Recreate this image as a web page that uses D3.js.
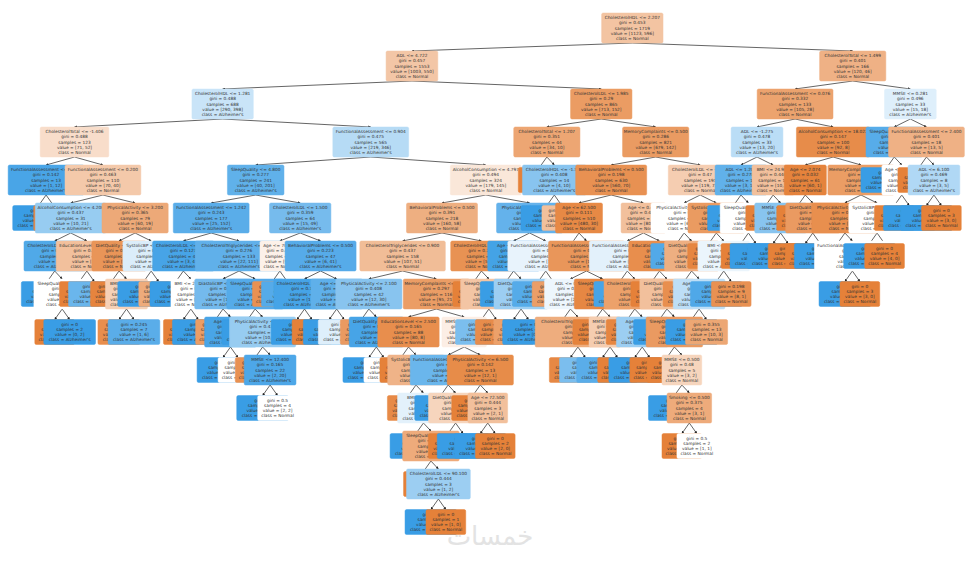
<!DOCTYPE html>
<html><head><meta charset="utf-8">
<script src="https://cdn.jsdelivr.net/npm/d3@7"></script>
<style>body{margin:0;background:#fff}svg{display:block}</style>
</head><body>
<svg id="c" width="980" height="561"></svg>
<script>
// Decision tree nodes in pre-order: [parent, feature, threshold, normalCount, alzheimersCount]; feature null = leaf
const classNames = ["Normal", "Alzheimer's"];
const treeNodes = [
[-1,"CholesterolHDL",2.207,1123,596],
[0,"ADL",4.722,1003,550],
[1,"CholesterolHDL",1.281,290,398],
[2,"CholesterolTotal",-1.406,71,52],
[3,"FunctionalAssessment",1.08,1,12],
[4,null,0,0,12],[4,null,0,1,0],
[3,"FunctionalAssessment",0.2,70,40],
[7,"AlcoholConsumption",4.2,10,21],
[8,"CholesterolLDL",1.1,2,17],
[9,null,0,0,15],
[9,"SleepQuality",6.2,2,2],[11,null,0,2,0],[11,null,0,0,2],
[8,"EducationLevel",1.5,8,4],[14,null,0,7,0],[14,null,0,1,4],
[7,"PhysicalActivity",3.2,60,19],
[17,"DietQuality",5.1,51,8],[18,null,0,40,1],
[18,"BMI",27.3,11,7],[20,null,0,10,1],[20,null,0,1,6],
[17,"SystolicBP",120.5,9,11],[23,null,0,0,8],[23,null,0,9,3],
[2,"FunctionalAssessment",0.904,219,346],
[26,"SleepQuality",4.8,40,201],
[27,"FunctionalAssessment",1.242,25,152],
[28,"CholesterolLDL",1.12,3,41],[29,null,0,0,38],
[29,"BMI",22.1,3,3],[31,null,0,3,0],[31,null,0,0,3],
[28,"CholesterolTriglycerides",-0.868,22,111],
[34,"DiastolicBP",72.5,12,40],[35,null,0,9,2],
[35,"Age",78.5,3,38],[37,null,0,0,35],[37,null,0,3,3],
[34,"SleepQuality",7.1,10,71],[40,null,0,0,50],
[40,"PhysicalActivity",2.3,10,21],[42,null,0,8,1],
[42,"MMSE",12.4,2,20],[44,null,0,0,18],[44,null,0,2,2],
[27,"CholesterolLDL",1.5,15,49],
[47,"Age",70.5,9,8],[48,null,0,8,1],[48,null,0,1,7],
[47,"BehavioralProblems",0.5,6,41],
[51,"CholesterolHDL",0.97,1,15],[52,null,0,0,15],[52,null,0,1,0],
[51,"Age",80.5,5,26],[55,null,0,0,20],[55,null,0,5,6],
[26,"AlcoholConsumption",4.797,179,145],
[58,"BehavioralProblems",0.5,160,58],
[59,"CholesterolTriglycerides",0.9,107,51],
[60,"PhysicalActivity",2.1,12,30],[61,null,0,10,2],
[61,"DietQuality",8.1,2,28],[63,null,0,0,26],[63,null,0,2,2],
[60,"MemoryComplaints",0.5,95,21],
[66,"EducationLevel",2.5,80,8],[67,null,0,60,0],
[67,"SystolicBP",150.5,20,8],[69,null,0,14,1],
[69,"BMI",30.2,6,7],[71,null,0,0,5],
[71,"SleepQuality",5.5,6,2],[73,null,0,5,0],
[73,"CholesterolLDL",90.1,1,2],[75,null,0,0,2],[75,null,0,1,0],
[66,"MMSE",15.2,15,13],
[78,"FunctionalAssessment",3.1,3,12],[79,null,0,0,10],
[79,"DietQuality",3.2,3,2],[81,null,0,3,0],[81,null,0,0,2],
[78,"PhysicalActivity",6.5,12,1],[84,null,0,10,0],
[84,"Age",72.5,2,1],[86,null,0,0,1],[86,null,0,2,0],
[59,"CholesterolHDL",1.9,53,7],[89,null,0,40,0],
[89,"SleepQuality",4.1,13,7],[91,null,0,2,6],[91,null,0,11,1],
[58,"PhysicalActivity",5.6,19,87],
[94,"Age",65.5,4,70],[95,null,0,0,62],
[95,"DietQuality",4.4,4,8],[97,null,0,4,1],[97,null,0,0,7],
[94,"FunctionalAssessment",2.3,15,17],[100,null,0,2,14],[100,null,0,13,3],
[1,"CholesterolLDL",1.985,713,152],
[103,"CholesterolTotal",1.207,34,10],[104,null,0,30,0],
[104,"CholesterolHDL",-1.518,4,10],[106,null,0,0,8],[106,null,0,4,2],
[103,"MemoryComplaints",0.5,679,142],
[109,"BehavioralProblems",0.5,560,70],
[110,"Age",62.5,480,30],[111,null,0,300,0],
[111,"FunctionalAssessment",1.4,180,30],
[113,"ADL",0.8,20,22],[114,null,0,0,15],
[114,"CholesterolTriglycerides",1.2,20,7],[116,null,0,18,1],[116,null,0,2,6],
[113,"SleepQuality",9.1,160,8],[119,null,0,150,2],
[119,"MMSE",3.9,10,6],[121,null,0,1,6],[121,null,0,9,0],
[110,"Age",0.412,80,40],
[124,"FunctionalAssessment",2.1,30,35],[125,null,0,2,28],
[125,"CholesterolHDL",0.8,28,7],[127,null,0,25,1],
[127,"Age",80.5,3,6],[129,null,0,0,6],[129,null,0,3,0],
[124,"EducationLevel",1.5,50,5],[132,null,0,40,0],
[132,"DietQuality",3.6,10,5],[134,null,0,0,3],
[134,"SleepQuality",0.5,10,2],[136,null,0,7,0],
[136,"MMSE",0.5,3,2],[138,null,0,0,1],
[138,"Smoking",0.5,3,1],[140,null,0,2,0],[140,null,0,1,1],
[109,"CholesterolLDL",-2.528,119,72],
[143,"PhysicalActivity",1.6,60,60],[144,null,0,5,40],
[144,"DietQuality",6.2,55,20],[146,null,0,45,5],
[146,"Age",74.5,10,15],[148,null,0,0,12],[148,null,0,10,3],
[143,"SystolicBP",130.5,59,12],[151,null,0,50,2],
[151,"BMI",25.2,9,10],[153,null,0,1,9],[153,null,0,8,1],
[0,"CholesterolTotal",1.499,120,46],
[156,"FunctionalAssessment",0.076,105,28],
[157,"ADL",-1.275,13,20],
[158,"ADL",1.2,3,15],[159,null,0,0,12],
[159,"SleepQuality",6.1,3,3],[161,null,0,3,0],[161,null,0,0,3],
[158,"BMI",24.9,10,5],[164,null,0,8,0],
[164,"MMSE",20.1,2,5],[166,null,0,0,5],[166,null,0,2,0],
[157,"AlcoholConsumption",18.022,92,8],
[169,"Age",2.074,60,1],[170,null,0,55,0],
[170,"DietQuality",7.5,5,1],[172,null,0,5,0],[172,null,0,0,1],
[169,"MemoryComplaints",0.5,32,7],
[175,"PhysicalActivity",4.4,28,3],[176,null,0,25,0],
[176,"FunctionalAssessment",5.3,3,3],[178,null,0,0,3],[178,null,0,3,0],
[175,"SystolicBP",140.5,4,4],[181,null,0,0,4],[181,null,0,4,0],
[156,"MMSE",0.281,15,18],
[184,"SleepQuality",7.02,2,13],[185,null,0,0,11],
[185,"Age",71.5,2,2],[187,null,0,2,0],[187,null,0,0,2],
[184,"FunctionalAssessment",2.4,13,5],[190,null,0,10,0],
[190,"ADL",6.1,3,5],[192,null,0,0,5],[192,null,0,3,0]
];

const svg = d3.select("#c");
const rows = treeNodes.map((r,i)=>({id:String(i), parentId: r[0]<0?null:String(r[0]), f:r[1], t:r[2], n:r[3], a:r[4]}));
const root = d3.stratify().id(d=>d.id).parentId(d=>d.parentId)(rows);
const maxDepth = root.height;
d3.tree().size([920, 1]).separation((a,b)=>a.parent===b.parent?1:1.15)(root);
const x = d3.scaleLinear().domain([0,920]).range([30,950]);
const y = d3.scaleLinear().domain([0,maxDepth]).range([28,522]);

const base = [[229,129,57],[57,157,229]];
function fill(d){
  const tot=d.n+d.a, p=[d.n/tot,d.a/tot];
  const k = p[0]>=p[1]?0:1, pm=p[k], p2=p[1-k];
  const alpha = p2>=1?0:(pm-p2)/(1-p2);
  const c = base[k].map(v=>Math.round(alpha*v+(1-alpha)*255));
  return `rgb(${c[0]},${c[1]},${c[2]})`;
}
function lines(d){
  const tot=d.n+d.a, g=1-(d.n/tot)**2-(d.a/tot)**2;
  const cls = d.n>=d.a?classNames[0]:classNames[1];
  const L=[];
  if(d.f) L.push(`${d.f} <= ${d.t.toFixed(3)}`);
  L.push(`gini = ${+g.toFixed(3)}`, `samples = ${tot}`, `value = [${d.n}, ${d.a}]`, `class = ${cls}`);
  return L;
}
const fs=4.3, lh=5.2;
const nodes = root.descendants();
nodes.forEach(n=>{
  n.L=lines(n.data);
  const w=d3.max(n.L,s=>s.length)*fs*0.56+6;
  n.w=w; n.h=n.L.length*lh+4;
  n.cx=x(n.x); n.cy=y(n.depth);
});
svg.append("defs").append("marker").attr("id","ar").attr("viewBox","0 0 10 10").attr("refX",9).attr("refY",5)
  .attr("markerWidth",4).attr("markerHeight",4).attr("orient","auto")
  .append("path").attr("d","M0,0L10,5L0,10z").attr("fill","#222");
svg.append("g").selectAll("line").data(root.links()).join("line")
  .attr("x1",d=>d.source.cx).attr("y1",d=>d.source.cy+d.source.h/2)
  .attr("x2",d=>d.target.cx).attr("y2",d=>d.target.cy-d.target.h/2)
  .attr("stroke","#222").attr("stroke-width",0.7).attr("marker-end","url(#ar)");
const g = svg.append("g").selectAll("g").data(nodes).join("g")
  .attr("transform",d=>`translate(${d.cx},${d.cy})`);
g.append("rect").attr("x",d=>-d.w/2).attr("y",d=>-d.h/2).attr("width",d=>d.w).attr("height",d=>d.h)
  .attr("rx",1.5).attr("fill",d=>fill(d.data)).attr("stroke",d=>fill(d.data)).attr("stroke-width",0.5);
g.each(function(d){
  const t=d3.select(this).append("text").attr("text-anchor","middle")
    .attr("font-family","DejaVu Sans").attr("font-size",fs).attr("fill","#333");
  d.L.forEach((s,i)=>t.append("tspan").attr("x",0).attr("y",-d.h/2+2+lh*(i+0.8)).text(s));
});
svg.append("text").attr("x",490).attr("y",545).attr("text-anchor","middle")
  .attr("font-family","DejaVu Sans").attr("font-size",26).attr("fill","#e3e3e3").text("خمسات");
</script>
</body></html>
